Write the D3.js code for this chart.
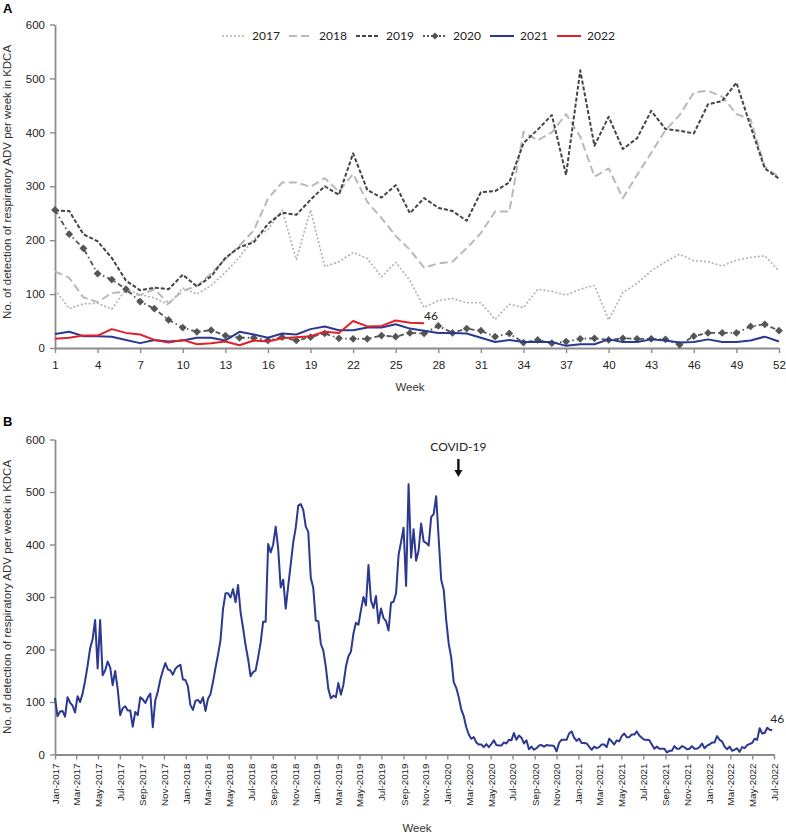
<!DOCTYPE html>
<html><head><meta charset="utf-8">
<script src="https://cdn.jsdelivr.net/npm/d3@7"></script>
<style>body{margin:0;background:#fff} svg{display:block}</style>
</head><body><svg id="c" width="786" height="835"></svg>
<script>
// ---------------- DATA ----------------
const weekTicks = [1,4,7,10,13,16,19,22,25,28,31,34,37,40,43,46,49,52];
const yTicks = [0,100,200,300,400,500,600];
const years = ["2017","2018","2019","2020","2021","2022"];
const y2017 = [108,73,82,83,72,109,99,93,80,111,100,116,140,169,202,220,256,164,256,151,160,177,166,132,159,125,75,88,92,84,84,53,81,75,109,105,98,109,116,52,103,120,143,160,174,162,160,152,163,168,171,143];
const y2018 = [142,130,94,85,102,104,98,109,83,106,115,138,165,190,218,277,307,307,299,315,290,323,271,241,208,182,149,157,160,185,213,253,253,401,385,400,434,392,318,333,278,321,362,404,432,474,477,466,434,424,336,317];
const y2019 = [255,254,211,198,167,125,107,112,109,136,114,133,167,187,196,230,251,247,275,300,284,361,293,279,302,250,278,260,254,236,289,291,307,380,405,432,321,515,375,429,369,389,440,406,403,398,452,458,492,411,333,314];
const y2020 = [256,211,185,138,127,109,86,73,52,38,30,33,23,19,19,14,20,14,20,27,18,17,17,23,21,28,27,41,28,36,32,21,27,10,15,9,12,17,18,15,18,17,17,16,6,22,28,28,28,40,44,32];
const y2021 = [26,30,22,22,21,15,9,15,12,14,19,19,14,30,25,19,27,25,35,40,33,33,38,38,44,36,32,28,28,27,19,11,15,11,11,11,4,7,7,16,11,11,16,14,10,11,16,11,11,14,21,12];
const y2022 = [17,19,23,23,35,28,25,15,10,15,7,9,12,5,14,12,18,20,22,30,28,50,40,41,51,47,46];
const seriesStart = "2017-01-01";
const axisStart = "2017-01-01", axisEnd = "2022-07-01";
const covidDate = "2020-02-01";
const covidLabel = "COVID-19";
const yTitle = "No. of detection of respiratory ADV per week in KDCA";
const xTitle = "Week";

// ---------------- SETUP ----------------
const FONT = "'Liberation Sans', Arial, sans-serif";
const LFONT = "Lato, 'Liberation Sans', sans-serif";
const AXC = "#8c8c8c";
const svg = d3.select("#c");
const seriesByYear = {"2017":y2017,"2018":y2018,"2019":y2019,"2020":y2020,"2021":y2021,"2022":y2022};
const styles = {
  "2017":{stroke:"#b0b0b0", width:1.6, dash:"2,2"},
  "2018":{stroke:"#b9b9b9", width:2, dash:"8,4"},
  "2019":{stroke:"#444", width:2, dash:"4,2"},
  "2020":{stroke:"#555", width:1.8, dash:"5,3,1.5,3", marker:true},
  "2021":{stroke:"#2b3990", width:2, dash:null},
  "2022":{stroke:"#e3202a", width:2, dash:null}
};

function styleAxis(g, fs){
  g.select(".domain").attr("stroke", AXC).attr("stroke-width", 1.8);
  g.selectAll(".tick line").attr("stroke", AXC).attr("stroke-width", 1.4);
  g.selectAll("text").attr("fill","#222").style("font-family",FONT).style("font-size", fs);
}

// ---------------- PANEL A ----------------
const xA = d3.scaleLinear().domain([1,52]).range([55,779]);
const yA = d3.scaleLinear().domain([0,600]).range([348,24.5]);

svg.append("g").attr("transform","translate(0,348)")
  .call(d3.axisBottom(xA).tickValues(weekTicks).tickSize(5).tickPadding(8).tickSizeOuter(0))
  .call(g=>styleAxis(g,"11.5px"));
svg.append("g").attr("transform","translate(55,0)")
  .call(d3.axisLeft(yA).tickValues(yTicks).tickSize(5).tickPadding(5).tickSizeOuter(0))
  .call(g=>styleAxis(g,"11.5px"));

const lineA = d3.line().x((d,i)=>xA(i+1)).y(d=>yA(d));
years.forEach(yr=>{
  const s = styles[yr];
  svg.append("path").datum(seriesByYear[yr])
    .attr("d", lineA).attr("fill","none")
    .attr("stroke", s.stroke).attr("stroke-width", s.width)
    .attr("stroke-dasharray", s.dash).attr("stroke-linejoin","round");
  if (s.marker){
    svg.append("g").selectAll("path").data(seriesByYear[yr]).join("path")
      .attr("d", d3.symbol(d3.symbolSquare, 30))
      .attr("transform",(d,i)=>`translate(${xA(i+1)},${yA(d)}) rotate(45)`)
      .attr("fill", s.stroke);
  }
});
// last-value label 2022
svg.append("text").attr("x", xA(y2022.length)).attr("y", yA(y2022[y2022.length-1]) - 3)
  .text(y2022[y2022.length-1]).style("font-family",LFONT).style("font-size","12px").attr("fill","#222");

// legend
const lg = svg.append("g");
years.forEach((yr,i)=>{
  const s = styles[yr];
  const x0 = 222 + i*67, yy = 36;
  lg.append("line").attr("x1",x0).attr("x2",x0+24).attr("y1",yy).attr("y2",yy)
    .attr("stroke", s.stroke).attr("stroke-width", s.width)
    .attr("stroke-dasharray", s.marker ? "2,2" : s.dash);
  if (s.marker){
    lg.append("path").attr("d", d3.symbol(d3.symbolSquare, 26))
      .attr("transform",`translate(${x0+12},${yy}) rotate(45)`).attr("fill", s.stroke);
  }
  lg.append("text").attr("x", x0+30).attr("y", yy).attr("dy","0.36em").text(yr)
    .style("font-family",LFONT).style("font-size","12px").attr("fill","#222");
});

svg.append("text").attr("x",3).attr("y",13).text("A")
  .style("font-family",FONT).style("font-weight","bold").style("font-size","13px");
svg.append("text").attr("transform","translate(10.5,182) rotate(-90)").attr("text-anchor","middle")
  .text(yTitle).style("font-family",FONT).style("font-size","11.5px").attr("fill","#333");
svg.append("text").attr("x",410).attr("y",391).attr("text-anchor","middle")
  .text(xTitle).style("font-family",FONT).style("font-size","11.5px").attr("fill","#333");

// ---------------- PANEL B ----------------
const allValues = [].concat(y2017,y2018,y2019,y2020,y2021,y2022);
const t0 = new Date(seriesStart + "T00:00:00Z");
const seriesB = allValues.map((v,i)=>({date:d3.utcDay.offset(t0, 7*i), value:v}));

const xB = d3.scaleUtc().domain([new Date(axisStart+"T00:00:00Z"), new Date(axisEnd+"T00:00:00Z")]).range([55,774]);
const yB = d3.scaleLinear().domain([0,600]).range([754.5,439.5]);

const gxB = svg.append("g").attr("transform","translate(0,754.5)")
  .call(d3.axisBottom(xB).ticks(d3.utcMonth.every(2)).tickFormat(d3.utcFormat("%b-%Y")).tickSize(5).tickSizeOuter(0))
  .call(g=>styleAxis(g,"9.8px"));
gxB.selectAll(".tick text").attr("transform","rotate(-90)").attr("text-anchor","end")
  .attr("x",-9).attr("y",0).attr("dy","0.35em");
svg.append("g").attr("transform","translate(55,0)")
  .call(d3.axisLeft(yB).tickValues(yTicks).tickSize(5).tickPadding(5).tickSizeOuter(0))
  .call(g=>styleAxis(g,"11.5px"));

svg.append("path").datum(seriesB)
  .attr("d", d3.line().x(d=>xB(d.date)).y(d=>yB(d.value)))
  .attr("fill","none").attr("stroke","#2b3990").attr("stroke-width",2).attr("stroke-linejoin","round");

const lastB = seriesB[seriesB.length-1];
svg.append("text").attr("x", xB(lastB.date)-2).attr("y", yB(lastB.value)-7)
  .text(lastB.value).style("font-family",LFONT).style("font-size","12px").attr("fill","#222");

// COVID annotation
const cx = xB(new Date(covidDate+"T00:00:00Z"));
svg.append("text").attr("x", cx).attr("y", 451).attr("text-anchor","middle").text(covidLabel)
  .style("font-family",LFONT).style("font-size","12px").attr("fill","#222");
svg.append("line").attr("x1",cx).attr("x2",cx).attr("y1",459).attr("y2",471)
  .attr("stroke","#111").attr("stroke-width",2.4);
svg.append("path").attr("d",`M${cx-4},${470} L${cx+4},${470} L${cx},${477} Z`).attr("fill","#111");

svg.append("text").attr("x",3).attr("y",426).text("B")
  .style("font-family",FONT).style("font-weight","bold").style("font-size","13px");
svg.append("text").attr("transform","translate(10.5,597) rotate(-90)").attr("text-anchor","middle")
  .text(yTitle).style("font-family",FONT).style("font-size","11.5px").attr("fill","#333");
svg.append("text").attr("x",417).attr("y",832).attr("text-anchor","middle")
  .text(xTitle).style("font-family",FONT).style("font-size","11.5px").attr("fill","#333");
</script></body></html>
